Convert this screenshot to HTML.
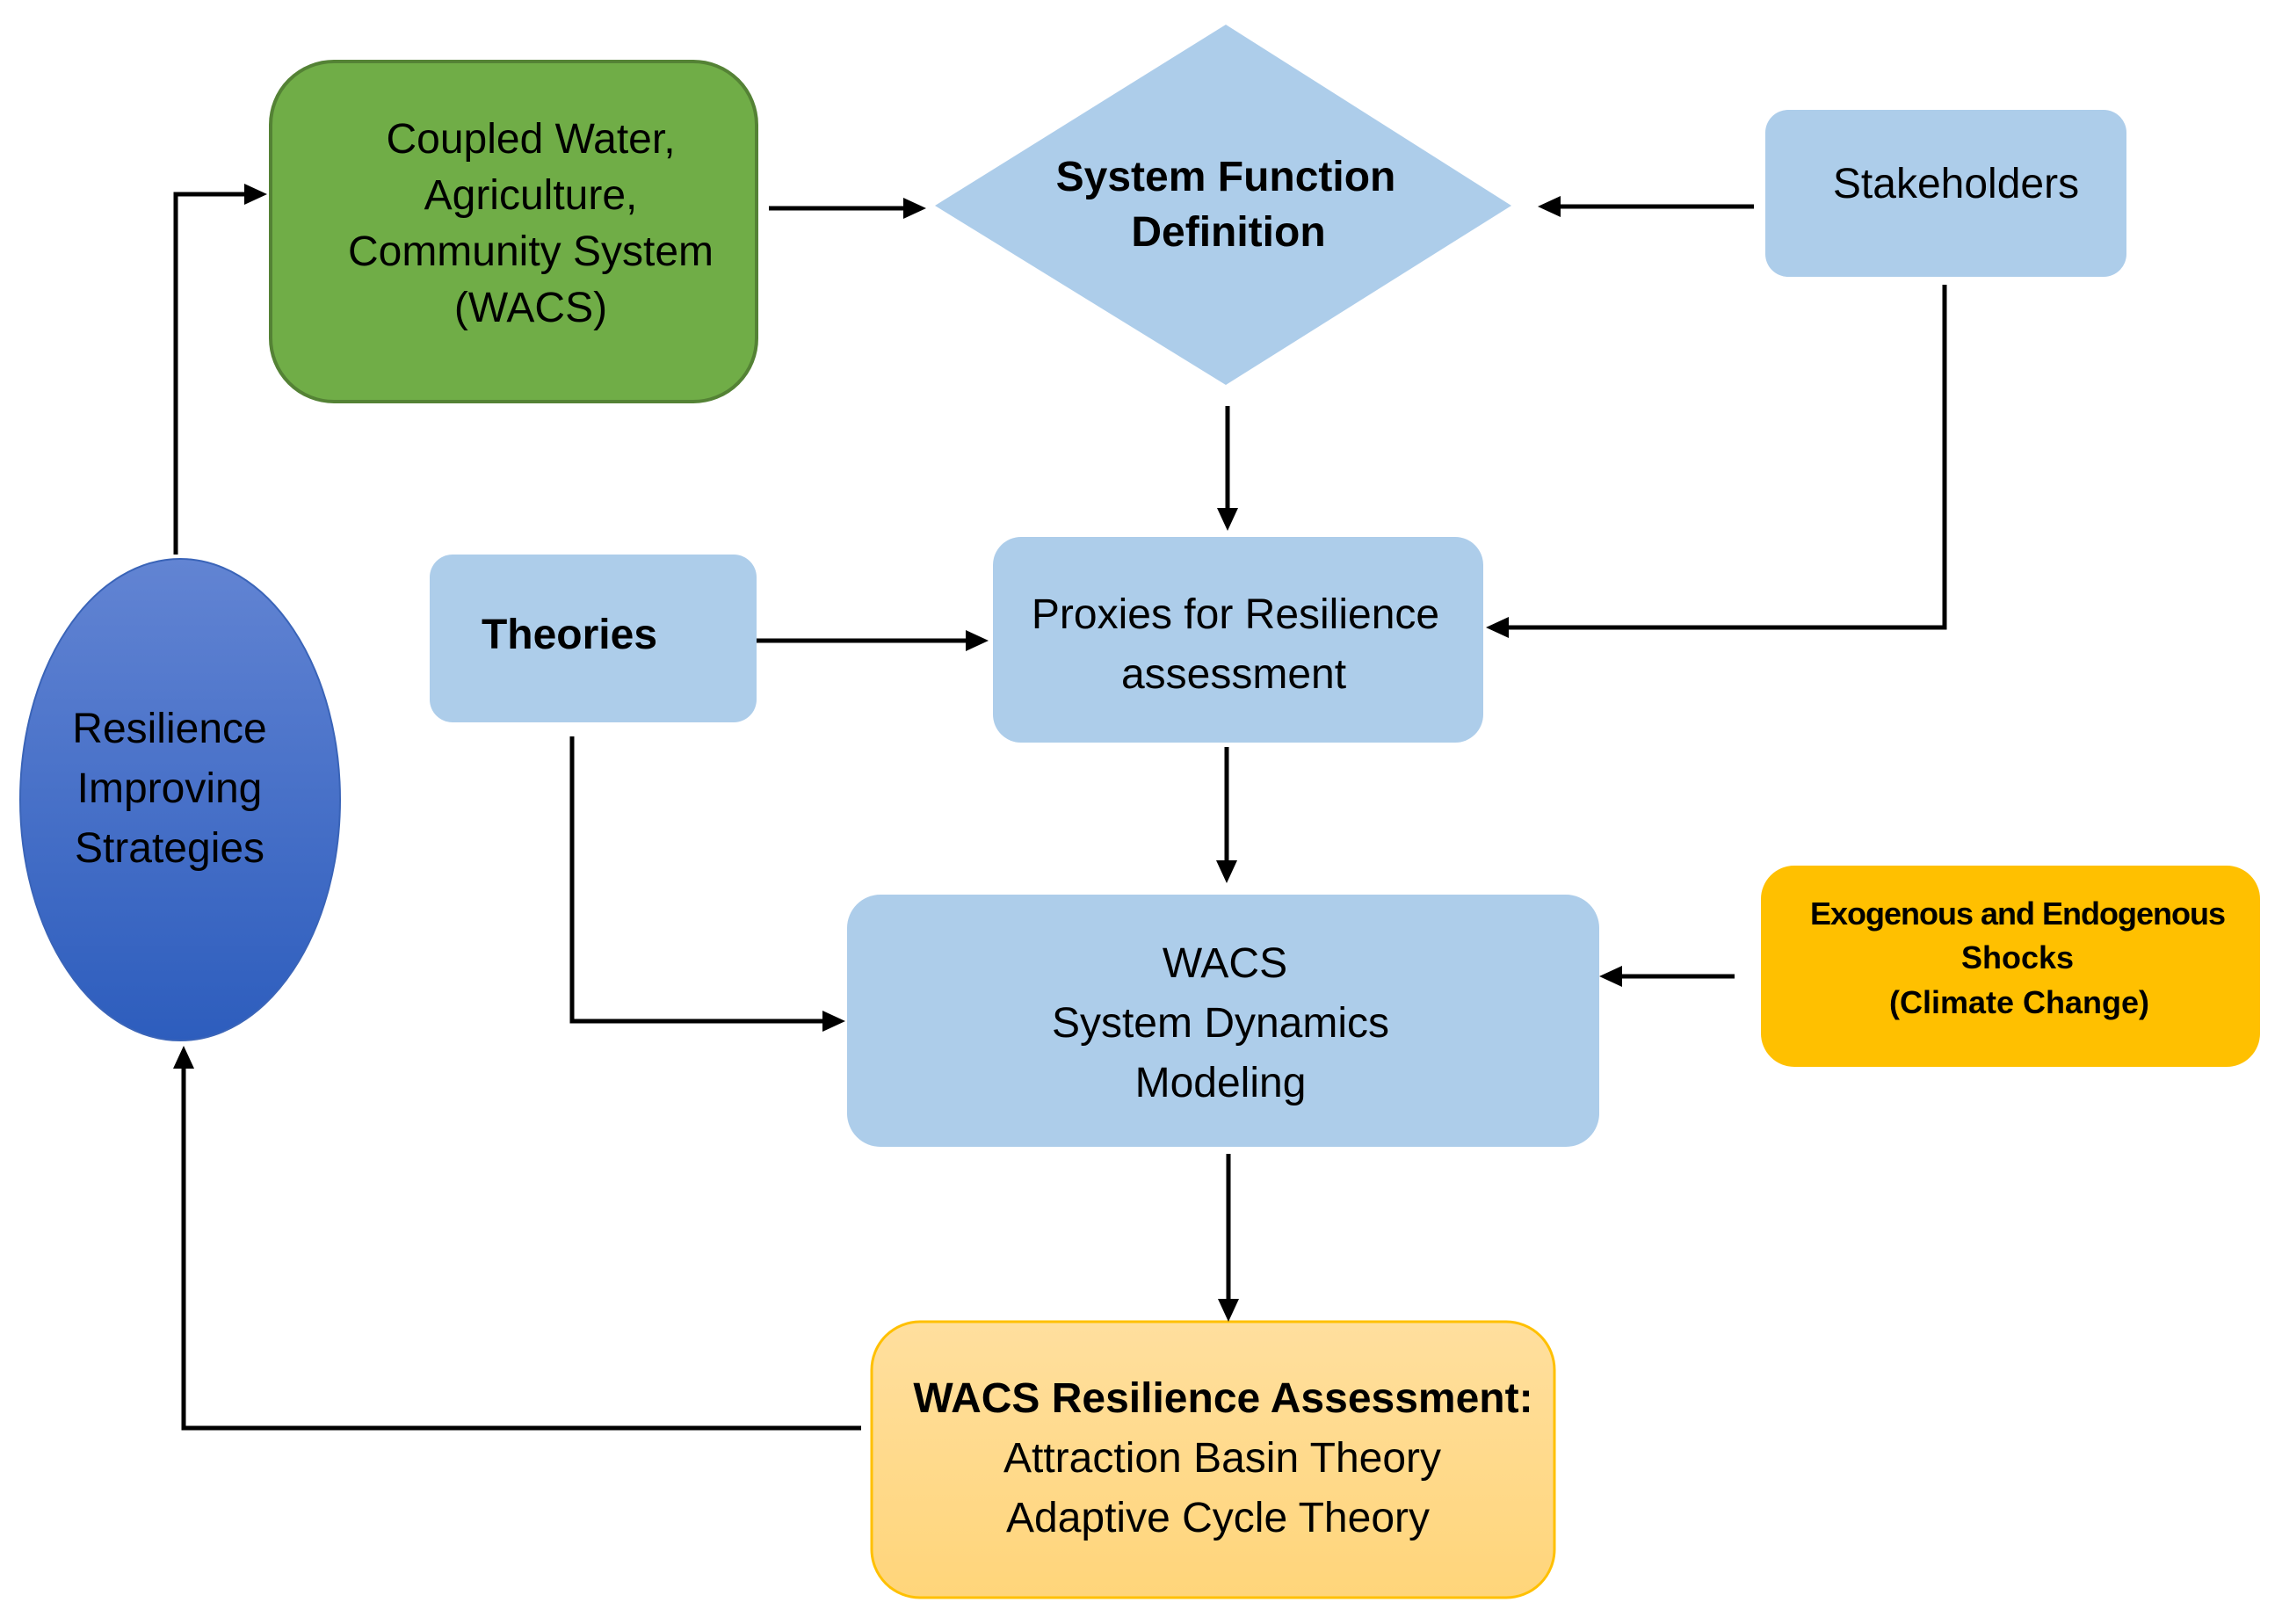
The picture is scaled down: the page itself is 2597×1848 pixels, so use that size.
<!DOCTYPE html>
<html><head><meta charset="utf-8"><style>
html,body{margin:0;padding:0;background:#fff;}
svg{display:block}
text{font-family:"Liberation Sans Narrow","Liberation Sans",sans-serif;fill:#000;}
</style></head><body>
<svg width="2597" height="1848" viewBox="0 0 2597 1848" xmlns="http://www.w3.org/2000/svg">
<defs>
<marker id="a" markerWidth="10" markerHeight="10" refX="8" refY="5" orient="auto" markerUnits="userSpaceOnUse" viewBox="0 0 10 10">
</marker>
<linearGradient id="eg" x1="0" y1="0" x2="0" y2="1"><stop offset="0" stop-color="#6284d3"/><stop offset="1" stop-color="#2d5dbd"/></linearGradient>
<linearGradient id="yg" x1="0" y1="0" x2="0" y2="1"><stop offset="0" stop-color="#ffdf9e"/><stop offset="1" stop-color="#ffd57a"/></linearGradient>
</defs>
<!-- shapes -->
<rect x="308" y="70" width="553" height="387" rx="72" fill="#70ad47" stroke="#548235" stroke-width="4"/>
<polygon points="1395,28 1720,234 1395,438 1064,234" fill="#adcdea"/>
<rect x="2009" y="125" width="411" height="190" rx="26" fill="#adcdea"/>
<rect x="489" y="631" width="372" height="191" rx="26" fill="#adcdea"/>
<rect x="1130" y="611" width="558" height="234" rx="32" fill="#adcdea"/>
<rect x="964" y="1018" width="856" height="287" rx="38" fill="#adcdea"/>
<rect x="2004" y="985" width="568" height="229" rx="38" fill="#ffc000"/>
<rect x="992" y="1504" width="777" height="314" rx="55" fill="url(#yg)" stroke="#ffc000" stroke-width="3"/>
<ellipse cx="205" cy="910" rx="182" ry="274" fill="url(#eg)" stroke="#3a64b8" stroke-width="2"/>

<!-- connectors -->
<g stroke="#000" stroke-width="5" fill="none">
<line x1="875" y1="237" x2="1030" y2="237"/>
<line x1="1996" y1="235" x2="1774" y2="235"/>
<line x1="1397" y1="462" x2="1397" y2="580"/>
<polyline points="2213,324 2213,714 1715,714"/>
<line x1="861" y1="729" x2="1101" y2="729"/>
<polyline points="651,838 651,1162 938,1162"/>
<line x1="1396" y1="850" x2="1396" y2="981"/>
<line x1="1974" y1="1111" x2="1844" y2="1111"/>
<line x1="1398" y1="1313" x2="1398" y2="1480"/>
<polyline points="980,1625 209,1625 209,1214"/>
<polyline points="200,631 200,221 280,221"/>
</g>
<g fill="#000">
<polygon points="1054,237 1028,225 1028,249"/>
<polygon points="1750,235 1776,223 1776,247"/>
<polygon points="1397,604 1385,578 1409,578"/>
<polygon points="1691,714 1717,702 1717,726"/>
<polygon points="1125,729 1099,717 1099,741"/>
<polygon points="962,1162 936,1150 936,1174"/>
<polygon points="1396,1005 1384,979 1408,979"/>
<polygon points="1820,1111 1846,1099 1846,1123"/>
<polygon points="1398,1504 1386,1478 1410,1478"/>
<polygon points="209,1190 197,1216 221,1216"/>
<polygon points="304,221 278,209 278,233"/>
</g>

<!-- text -->
<g font-size="48" text-anchor="middle">
<text x="604" y="174">Coupled Water,</text>
<text x="604" y="238">Agriculture,</text>
<text x="604" y="302">Community System</text>
<text x="604" y="366">(WACS)</text>
<text x="1395" y="217" font-weight="bold">System Function</text>
<text x="1398" y="280" font-weight="bold">Definition</text>
<text x="2226" y="225">Stakeholders</text>
<text x="648" y="738" font-weight="bold">Theories</text>
<text x="1406" y="715">Proxies for Resilience</text>
<text x="1404" y="783">assessment</text>
<text x="1394" y="1112">WACS</text>
<text x="1389" y="1180">System Dynamics</text>
<text x="1389" y="1248">Modeling</text>
<text x="193" y="845">Resilience</text>
<text x="193" y="913">Improving</text>
<text x="193" y="981">Strategies</text>
<text x="1392" y="1607" font-weight="bold">WACS Resilience Assessment:</text>
<text x="1391" y="1675" fill="#222">Attraction Basin Theory</text>
<text x="1386" y="1743" fill="#222">Adaptive Cycle Theory</text>
</g>
<g font-size="36" text-anchor="middle" font-weight="bold">
<text x="2296" y="1052" letter-spacing="-1">Exogenous and Endogenous</text>
<text x="2296" y="1102">Shocks</text>
<text x="2298" y="1153">(Climate Change)</text>
</g>
</svg>
</body></html>
